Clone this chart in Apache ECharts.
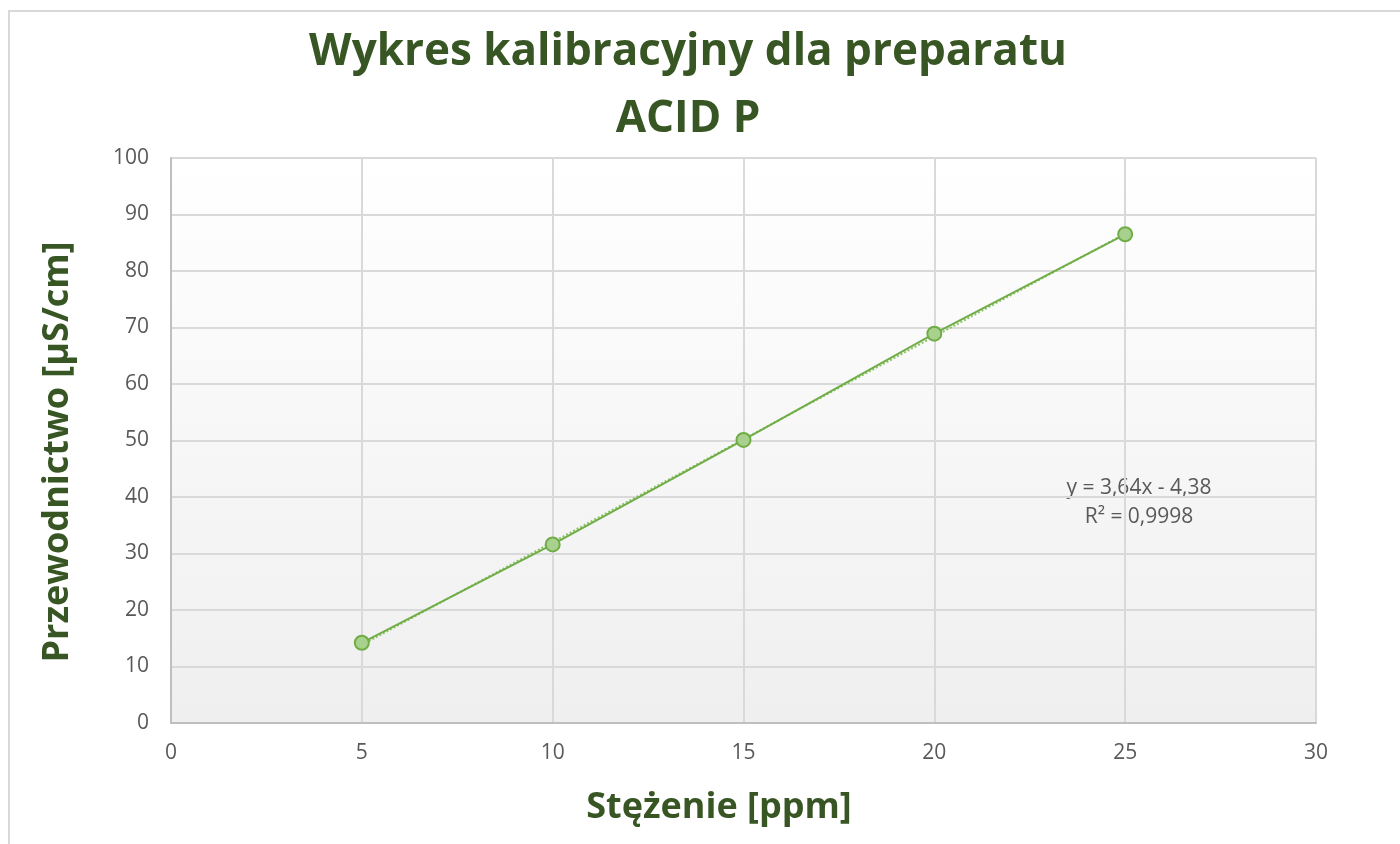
<!DOCTYPE html>
<html>
<head>
<meta charset="utf-8">
<script src="https://cdn.jsdelivr.net/npm/echarts@6/dist/echarts.min.js"></script>
<style>
    html, body { margin: 0; padding: 0; background: #fff; }
    #frame {
        position: absolute; left: 8px; top: 10px; width: 1400px; height: 850px;
        border: 2px solid #d9d9d9; box-sizing: border-box;
    }
    #chart { position: absolute; left: 0; top: 0; width: 1400px; height: 844px; }
</style>
</head>
<body>
<div id="frame"></div>
<div id="chart"></div>
<script>
    // pomiary
    var concentration = [5, 10, 15, 20, 25];
    var conductivity = [14.2, 31.6, 50.1, 68.9, 86.5];
    // linia trendu
    var trendX = [5, 25];
    var trendY = [13.82, 86.62];
    var equationText = 'y = 3,64x - 4,38';
    var r2Text = 'R² = 0,9998';
    var xName = 'Stężenie [ppm]';
    var yName = 'Przewodnictwo [µS/cm]';

    var green = '#375623';
    var labelColor = '#595959';

    var chart = echarts.init(document.getElementById('chart'));
    var option = {
        animation: false,
        title: {
            text: 'Wykres kalibracyjny dla preparatu\nACID P',
            left: 683,
            top: 14,
            textAlign: 'center',
            textStyle: {
                fontFamily: 'Open Sans',
                fontWeight: 'bold',
                fontSize: 44,
                lineHeight: 67,
                color: green
            }
        },
        grid: {
            left: 171, right: 84, top: 158, bottom: 121,
            show: true,
            borderWidth: 0,
            backgroundColor: new echarts.graphic.LinearGradient(0, 0, 0, 1, [
                { offset: 0, color: '#ffffff' },
                { offset: 1, color: '#efefef' }
            ])
        },
        xAxis: {
            type: 'value',
            min: 0, max: 30, interval: 5,
            axisLine: { lineStyle: { color: '#bfbfbf', width: 2 } },
            axisTick: { show: false },
            axisLabel: { color: labelColor, fontSize: 21, fontFamily: 'Open Sans', margin: 20 },
            splitLine: { show: true, lineStyle: { color: '#d9d9d9', width: 2 } }
        },
        yAxis: {
            type: 'value',
            min: 0, max: 100, interval: 10,
            axisLine: { show: true, lineStyle: { color: '#bfbfbf', width: 2 } },
            axisTick: { show: false },
            axisLabel: { color: labelColor, fontSize: 21, fontFamily: 'Open Sans', margin: 22 },
            splitLine: { show: true, lineStyle: { color: '#d9d9d9', width: 2 } }
        },
        series: [
            {
                type: 'line',
                data: trendX.map(function (x, i) { return [x, trendY[i]]; }),
                showSymbol: false,
                lineStyle: { color: '#8fc46b', width: 2, type: [2, 2] },
                z: 1
            },
            {
                type: 'line',
                data: concentration.map(function (x, i) { return [x, conductivity[i]]; }),
                symbol: 'circle',
                symbolSize: 14,
                lineStyle: { color: '#70ad47', width: 2 },
                itemStyle: { color: '#a9d18e', borderColor: '#70ad47', borderWidth: 2 },
                z: 2
            }
        ],
        graphic: [
            {
                type: 'text',
                x: 1139, y: 474,
                style: {
                    text: equationText + '\n' + r2Text,
                    fill: labelColor,
                    fontFamily: 'Open Sans',
                    fontSize: 21,
                    lineHeight: 29,
                    align: 'center'
                }
            },
            {
                type: 'text',
                x: 719, y: 808,
                style: {
                    text: xName,
                    fill: green,
                    fontFamily: 'Open Sans',
                    fontWeight: 'bold',
                    fontSize: 36,
                    align: 'center',
                    verticalAlign: 'middle'
                }
            },
            {
                type: 'text',
                x: 58, y: 452,
                rotation: Math.PI / 2,
                style: {
                    text: yName,
                    fill: green,
                    fontFamily: 'Open Sans',
                    fontWeight: 'bold',
                    fontSize: 36,
                    align: 'center',
                    verticalAlign: 'middle'
                }
            }
        ]
    };
    chart.setOption(option);
</script>
</body>
</html>
